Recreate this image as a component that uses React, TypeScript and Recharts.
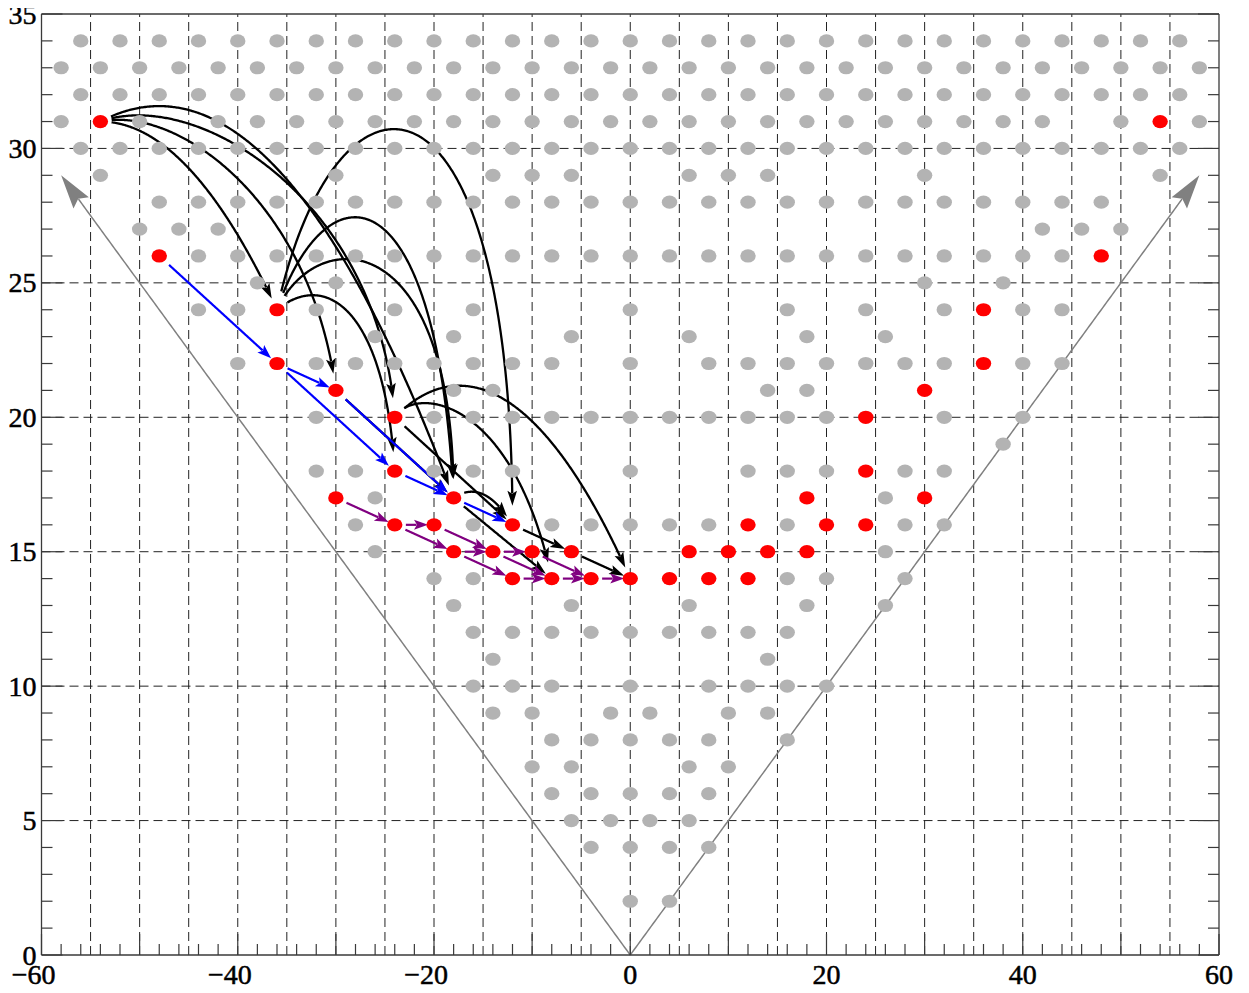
import React from "react";
import { ScatterChart, Scatter, XAxis, YAxis, ReferenceLine } from "recharts";

type Pt = [number, number];
interface Edge {
  from: Pt;
  to: Pt;
  c1?: Pt;
  c2?: Pt;
}

// axis labels and grid positions
const xLabels = [-60, -40, -20, 0, 20, 40, 60];
const yLabels = [0, 5, 10, 15, 20, 25, 30, 35];
const gridX = [-55, -50, -45, -40, -35, -30, -25, -20, -15, -10, -5, 0, 5, 10, 15, 20, 25, 30, 35, 40, 45, 50, 55];
const gridY = [5, 10, 15, 20, 25, 30];

const range = (a: number, b: number, s: number) =>
  Array.from({ length: Math.round((b - a) / s) + 1 }, (_, i) => a + i * s);
const xTicks = range(-60, 60, 2);
const yTicks = range(0, 35, 1);

// gray (allowed) states: [row y, x values]
const grayRows: [number, number[]][] = [
  [34, [-56, -52, -48, -44, -40, -36, -32, -28, -24, -20, -16, -12, -8, -4, 0, 4, 8, 12, 16, 20, 24, 28, 32, 36, 40, 44, 48, 52, 56]],
  [33, [-58, -54, -50, -46, -42, -38, -34, -30, -26, -22, -18, -14, -10, -6, -2, 2, 6, 10, 14, 18, 22, 26, 30, 34, 38, 42, 46, 50, 54, 58]],
  [32, [-56, -52, -48, -44, -40, -36, -32, -28, -24, -20, -16, -12, -8, -4, 0, 4, 8, 12, 16, 20, 24, 28, 32, 36, 40, 44, 48, 52, 56]],
  [31, [-58, -50, -42, -38, -34, -30, -26, -22, -18, -14, -10, -6, -2, 2, 6, 10, 14, 18, 22, 26, 30, 34, 38, 42, 50, 58]],
  [30, [-56, -52, -48, -44, -40, -36, -32, -28, -24, -20, -16, -12, -8, -4, 0, 4, 8, 12, 16, 20, 24, 28, 32, 36, 40, 44, 48, 52, 56]],
  [29, [-54, -30, -14, -10, -6, 6, 10, 14, 30, 54]],
  [28, [-48, -44, -40, -36, -32, -28, -24, -20, -16, -12, -8, -4, 0, 4, 8, 12, 16, 20, 24, 28, 32, 36, 40, 44, 48]],
  [27, [-50, -46, -42, 42, 46, 50]],
  [26, [-44, -40, -36, -32, -28, -24, -20, -16, -12, -8, -4, 0, 4, 8, 12, 16, 20, 24, 28, 32, 36, 40, 44]],
  [25, [-38, -30, 30, 38]],
  [24, [-44, -40, -32, -24, -16, 0, 16, 24, 32, 40, 44]],
  [23, [-26, -18, -6, 6, 18, 26]],
  [22, [-40, -32, -28, -24, -20, -16, -12, -8, 0, 8, 12, 16, 20, 24, 28, 32, 40, 44]],
  [21, [-18, -14, 14, 18]],
  [20, [-32, -20, -16, -12, -8, -4, 0, 4, 8, 12, 16, 20, 32, 40]],
  [19, [38]],
  [18, [-32, -28, -20, -16, -12, 0, 12, 16, 20, 28, 32]],
  [17, [-26, 26]],
  [16, [-28, -16, -8, -4, 0, 4, 8, 16, 28, 32]],
  [15, [-26, 26]],
  [14, [-20, -16, 16, 20, 28]],
  [13, [-18, -6, 6, 18, 26]],
  [12, [-16, -12, -8, -4, 0, 4, 8, 12, 16]],
  [11, [-14, 14]],
  [10, [-16, -12, -8, 0, 8, 12, 16, 20]],
  [9, [-14, -10, -2, 2, 10, 14]],
  [8, [-8, -4, 0, 4, 8, 16]],
  [7, [-10, -6, 6, 10]],
  [6, [-8, -4, 0, 4, 8]],
  [5, [-6, -2, 2, 6]],
  [4, [-4, 0, 4, 8]],
  [2, [0, 4]],
];

// red states (the path)
const redPoints: Pt[] = [
  [-54, 31], [54, 31], [-48, 26], [48, 26], [-36, 24], [36, 24], [-36, 22], [36, 22],
  [-30, 21], [30, 21], [-24, 20], [24, 20], [-24, 18], [24, 18], [-30, 17], [30, 17],
  [-18, 17], [18, 17], [-24, 16], [-20, 16], [-12, 16], [12, 16], [20, 16], [24, 16],
  [-18, 15], [-14, 15], [-10, 15], [-6, 15], [6, 15], [10, 15], [14, 15], [18, 15],
  [-12, 14], [-8, 14], [-4, 14], [0, 14], [4, 14], [8, 14], [12, 14],
];

const blueEdges: Edge[] = [
  { from: [-48, 26], to: [-36, 22] },
  { from: [-36, 22], to: [-30, 21] },
  { from: [-36, 22], to: [-24, 18] },
  { from: [-30, 21], to: [-18, 17] },
  { from: [-24, 18], to: [-18, 17] },
  { from: [-18, 17], to: [-12, 16] },
];

const purpleEdges: Edge[] = [
  { from: [-30, 17], to: [-24, 16] },
  { from: [-24, 16], to: [-20, 16] },
  { from: [-24, 16], to: [-18, 15] },
  { from: [-20, 16], to: [-14, 15] },
  { from: [-18, 15], to: [-14, 15] },
  { from: [-18, 15], to: [-12, 14] },
  { from: [-14, 15], to: [-10, 15] },
  { from: [-14, 15], to: [-8, 14] },
  { from: [-10, 15], to: [-4, 14] },
  { from: [-12, 14], to: [-8, 14] },
  { from: [-8, 14], to: [-4, 14] },
  { from: [-4, 14], to: [0, 14] },
];

// black jumps, curved ones carry two bezier control points (data units)
const blackEdges: Edge[] = [
  { from: [-54, 31], to: [-36, 24], c1: [-48, 31], c2: [-42, 28.7] },
  { from: [-54, 31], to: [-30, 21], c1: [-46, 31.6], c2: [-32.5, 28] },
  { from: [-54, 31], to: [-24, 20], c1: [-44, 32.3], c2: [-25.5, 28] },
  { from: [-54, 31], to: [-18, 17], c1: [-42, 33.3], c2: [-30, 28.7] },
  { from: [-36, 24], to: [-12, 16], c1: [-30, 34], c2: [-12, 34] },
  { from: [-36, 24], to: [-18, 17], c1: [-31, 29.4], c2: [-19.7, 29.4] },
  { from: [-36, 24], to: [-18, 17], c1: [-32, 27.2], c2: [-18, 27.2] },
  { from: [-36, 24], to: [-24, 18], c1: [-31, 25.5], c2: [-25, 24] },
  { from: [-30, 21], to: [-18, 17] },
  { from: [-24, 20], to: [-12, 16] },
  { from: [-24, 20], to: [0, 14], c1: [-17, 22.6], c2: [-8.5, 21] },
  { from: [-24, 20], to: [-8, 14], c1: [-22, 21.2], c2: [-12, 20.8] },
  { from: [-18, 17], to: [-12, 16], c1: [-16, 17.5], c2: [-14, 17.2] },
  { from: [-18, 17], to: [-8, 14] },
  { from: [-12, 16], to: [-6, 15] },
  { from: [-6, 15], to: [0, 14] },
];

const coneEdges: Edge[] = [
  { from: [0, 0], to: [-58, 29] },
  { from: [0, 0], to: [58, 29] },
];

const grayData = grayRows.flatMap(([y, xs]) => xs.map((x) => ({ x, y })));
const redData = redPoints.map(([x, y]) => ({ x, y }));

const FONT = "'Liberation Serif', 'Times New Roman', serif";
const FS = 28;
const FRAME = "#3a3a3a";

const SRC_GAP = { rx: 11, ry: 18 };
const TGT_GAP = { rx: 6, ry: 18 };

interface Head {
  len: number;
  hw: number;
  notch: number;
}

function makeArrow(edge: Edge, color: string, width: number, head: Head, trim: boolean) {
  return (props: any) => {
    const { x1, y1, x2, y2 } = props;
    if ([x1, y1, x2, y2].some((v) => typeof v !== "number" || !isFinite(v))) return <g />;
    const [sx, sy] = edge.from;
    const [tx, ty] = edge.to;
    const N = 300;
    const pts: Pt[] = [];
    if (edge.c1 && edge.c2) {
      const mx = (v: number) => x1 + ((v - sx) / (tx - sx)) * (x2 - x1);
      const my = (v: number) => y1 + ((v - sy) / (ty - sy)) * (y2 - y1);
      const b: Pt = [mx(edge.c1[0]), my(edge.c1[1])];
      const c: Pt = [mx(edge.c2[0]), my(edge.c2[1])];
      for (let i = 0; i <= N; i++) {
        const t = i / N;
        const u = 1 - t;
        pts.push([
          u * u * u * x1 + 3 * u * u * t * b[0] + 3 * u * t * t * c[0] + t * t * t * x2,
          u * u * u * y1 + 3 * u * u * t * b[1] + 3 * u * t * t * c[1] + t * t * t * y2,
        ]);
      }
    } else {
      for (let i = 0; i <= N; i++) {
        const t = i / N;
        pts.push([x1 + t * (x2 - x1), y1 + t * (y2 - y1)]);
      }
    }
    let i0 = 0;
    let i1 = N;
    if (trim) {
      const inside = (p: Pt, cx: number, cy: number, g: { rx: number; ry: number }) =>
        ((p[0] - cx) / g.rx) ** 2 + ((p[1] - cy) / g.ry) ** 2 < 1;
      while (i0 < N && inside(pts[i0], x1, y1, SRC_GAP)) i0++;
      while (i1 > i0 && inside(pts[i1], x2, y2, TGT_GAP)) i1--;
    }
    const tip = pts[i1];
    let j = i1;
    while (j > i0 && Math.hypot(tip[0] - pts[j][0], tip[1] - pts[j][1]) < head.len * 0.7) j--;
    let ux = tip[0] - pts[j][0];
    let uy = tip[1] - pts[j][1];
    const L = Math.hypot(ux, uy) || 1;
    ux /= L;
    uy /= L;
    const nx = -uy;
    const ny = ux;
    const bx = tip[0] - ux * head.len;
    const by = tip[1] - uy * head.len;
    const cut = head.len - head.notch;
    const headPts = [
      [tip[0], tip[1]],
      [bx + nx * head.hw, by + ny * head.hw],
      [tip[0] - ux * cut, tip[1] - uy * cut],
      [bx - nx * head.hw, by - ny * head.hw],
    ];
    const shaft = pts
      .slice(i0, i1 + 1)
      .filter((p) => Math.hypot(p[0] - tip[0], p[1] - tip[1]) > cut + 1);
    shaft.push([tip[0] - ux * (cut + 0.5), tip[1] - uy * (cut + 0.5)]);
    return (
      <g>
        <polyline
          points={shaft.map((p) => `${p[0]},${p[1]}`).join(" ")}
          fill="none"
          stroke={color}
          strokeWidth={width}
          strokeLinejoin="round"
        />
        <polygon points={headPts.map((p) => `${p[0]},${p[1]}`).join(" ")} fill={color} />
      </g>
    );
  };
}

const blackHead: Head = { len: 15, hw: 4.8, notch: 3 };
const colorHead: Head = { len: 14, hw: 5, notch: 3 };
const coneHead: Head = { len: 34, hw: 9.5, notch: 5 };

const labelStyle = { fontFamily: FONT, fontSize: FS, fill: "#000", stroke: "#000", strokeWidth: 0.5 };

function NumLabel({ x, y, v }: { x: number; y: number; v: number }) {
  const s = String(Math.abs(v));
  const half = s.length * FS * 0.25;
  return (
    <g {...labelStyle}>
      <text x={x} y={y} textAnchor="middle">
        {s}
      </text>
      {v < 0 && (
        <text x={x - half} y={y} textAnchor="end">
          {"\u2212"}
        </text>
      )}
    </g>
  );
}

const BottomTick = (props: any) => {
  const { x, y, payload } = props;
  const v = payload.value as number;
  const len = v % 10 === 0 ? 21 : 11;
  return (
    <g>
      <line x1={x} y1={y} x2={x} y2={y - len} stroke={FRAME} strokeWidth={1.2} />
      {xLabels.includes(v) && <NumLabel x={x} y={y + 29} v={v} />}
    </g>
  );
};

const TopTick = (props: any) => {
  const { x, y, payload } = props;
  const v = payload.value as number;
  const len = v % 10 === 0 ? 21 : 11;
  return <line x1={x} y1={y} x2={x} y2={y + len} stroke={FRAME} strokeWidth={1.2} />;
};

const LeftTick = (props: any) => {
  const { x, y, payload } = props;
  const v = payload.value as number;
  const len = v % 5 === 0 ? 21 : 11;
  return (
    <g>
      <line x1={x} y1={y} x2={x + len} y2={y} stroke={FRAME} strokeWidth={1.2} />
      {yLabels.includes(v) && (
        <text x={x - 5} y={y} dy="0.34em" textAnchor="end" {...labelStyle}>
          {v}
        </text>
      )}
    </g>
  );
};

const RightTick = (props: any) => {
  const { x, y, payload } = props;
  const v = payload.value as number;
  const len = v % 5 === 0 ? 21 : 11;
  return <line x1={x} y1={y} x2={x - len} y2={y} stroke={FRAME} strokeWidth={1.2} />;
};

const grayDot = (p: any) => <ellipse cx={p.cx} cy={p.cy} rx={7.7} ry={6.6} fill="#b3b3b3" />;
const redDot = (p: any) => <ellipse cx={p.cx} cy={p.cy} rx={7.7} ry={6.6} fill="#ff0000" />;

const seg = (e: Edge) => [
  { x: e.from[0], y: e.from[1] },
  { x: e.to[0], y: e.to[1] },
];

export default function App() {
  const axisLine = { stroke: FRAME, strokeWidth: 1.3 };
  return (
    <div style={{ marginTop: -8, marginLeft: -8, width: 1249, height: 993 }}>
      <ScatterChart width={1249} height={993} margin={{ top: 12, right: 28, bottom: 8, left: 11.5 }}>
        <XAxis
          type="number"
          dataKey="x"
          domain={[-60, 60]}
          ticks={xTicks}
          interval={0}
          allowDataOverflow
          height={30}
          tickSize={0}
          tickMargin={0}
          tickLine={false}
          axisLine={axisLine}
          tick={(p: any) => <BottomTick {...p} />}
        />
        <XAxis
          xAxisId="top"
          orientation="top"
          type="number"
          domain={[-60, 60]}
          ticks={xTicks}
          interval={0}
          allowDataOverflow
          height={2}
          tickSize={0}
          tickMargin={0}
          tickLine={false}
          axisLine={axisLine}
          tick={(p: any) => <TopTick {...p} />}
        />
        <YAxis
          type="number"
          dataKey="y"
          domain={[0, 35]}
          ticks={yTicks}
          interval={0}
          allowDataOverflow
          width={30}
          tickSize={0}
          tickMargin={0}
          tickLine={false}
          axisLine={axisLine}
          tick={(p: any) => <LeftTick {...p} />}
        />
        <YAxis
          yAxisId="right"
          orientation="right"
          type="number"
          domain={[0, 35]}
          ticks={yTicks}
          interval={0}
          allowDataOverflow
          width={2}
          tickSize={0}
          tickMargin={0}
          tickLine={false}
          axisLine={axisLine}
          tick={(p: any) => <RightTick {...p} />}
        />

        {gridX.map((v) => (
          <ReferenceLine key={`gx${v}`} x={v} stroke="#222" strokeWidth={1} strokeDasharray="9 5" ifOverflow="visible" />
        ))}
        {gridY.map((v) => (
          <ReferenceLine key={`gy${v}`} y={v} stroke="#222" strokeWidth={1} strokeDasharray="9 5" ifOverflow="visible" />
        ))}

        {coneEdges.map((e, i) => (
          <ReferenceLine
            key={`cone${i}`}
            segment={seg(e)}
            ifOverflow="visible"
            shape={makeArrow(e, "#808080", 1.5, coneHead, false)}
          />
        ))}

        <Scatter data={grayData} shape={grayDot} isAnimationActive={false} />

        {blackEdges.map((e, i) => (
          <ReferenceLine key={`bk${i}`} segment={seg(e)} ifOverflow="visible" shape={makeArrow(e, "#000000", 2.3, blackHead, true)} />
        ))}
        {blueEdges.map((e, i) => (
          <ReferenceLine key={`bl${i}`} segment={seg(e)} ifOverflow="visible" shape={makeArrow(e, "#0000ff", 2.2, colorHead, true)} />
        ))}
        {purpleEdges.map((e, i) => (
          <ReferenceLine key={`pu${i}`} segment={seg(e)} ifOverflow="visible" shape={makeArrow(e, "#800080", 2.2, colorHead, true)} />
        ))}

        <Scatter data={redData} shape={redDot} isAnimationActive={false} />
      </ScatterChart>
    </div>
  );
}
